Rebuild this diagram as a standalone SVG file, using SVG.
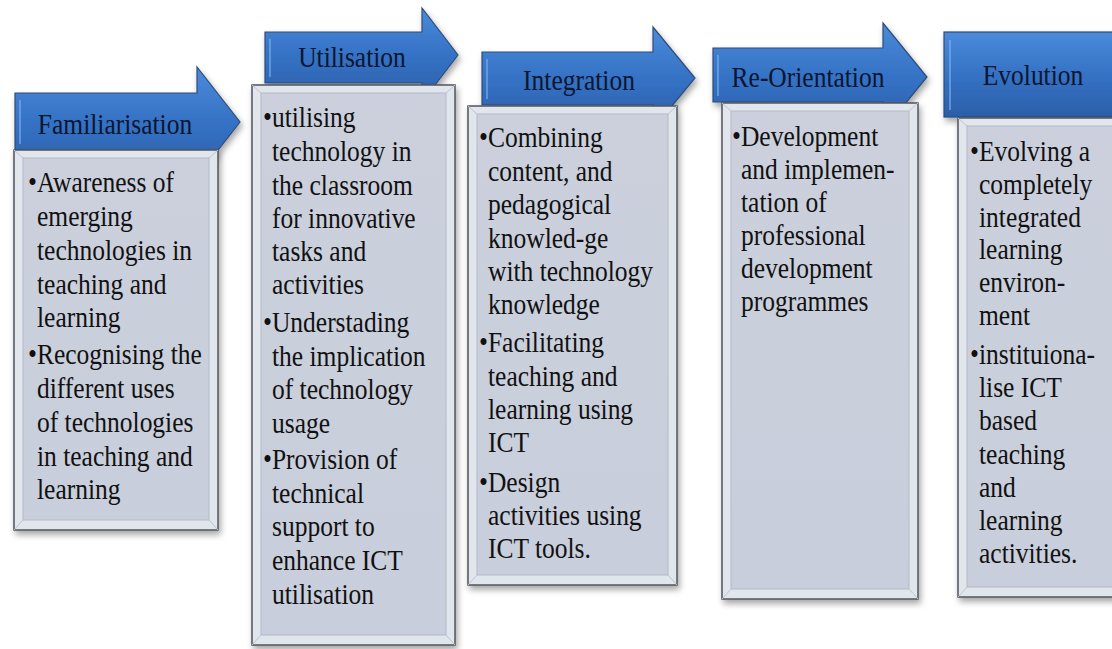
<svg xmlns="http://www.w3.org/2000/svg" width="1112" height="649" viewBox="0 0 1112 649">
<defs>
<linearGradient id="blue" x1="0" y1="0" x2="0" y2="1">
<stop offset="0" stop-color="#4B8BDA"/>
<stop offset="0.5" stop-color="#3572C5"/>
<stop offset="1" stop-color="#2B5FA9"/>
</linearGradient>
<linearGradient id="panel" x1="0" y1="0" x2="0" y2="1">
<stop offset="0" stop-color="#CBD0DC"/>
<stop offset="1" stop-color="#C8CEDB"/>
</linearGradient>
<filter id="sh" x="-10%" y="-10%" width="130%" height="130%">
<feDropShadow dx="2" dy="4" stdDeviation="3" flood-color="#000" flood-opacity="0.35"/>
</filter>
</defs>
<style>
.arrow{fill:url(#blue);stroke:#2E4C78;stroke-width:1.2;filter:url(#sh)}
.hl{fill:none;stroke:#7FB0EA;stroke-width:2;opacity:0.6}
.box{fill:#E1E5EC;stroke:#50545C;stroke-width:1.5;filter:url(#sh)}
.inner{fill:url(#panel);stroke:#B4BAC8;stroke-width:1}
.bev{stroke:#BEC4D0;stroke-width:1;fill:none}
.hd{font-family:"Liberation Serif","Times New Roman",serif;font-size:30px;fill:#0B1630;text-anchor:middle}
.tx{font-family:"Liberation Serif","Times New Roman",serif;font-size:30px;fill:#111}
</style>
<rect width="1112" height="649" fill="#FFFFFF"/>

<g id="familiarisation">
<path class="arrow" d="M15,93 H197 V67 L240,122 L197,177 V150 H15 Z"/>
<path class="hl" d="M20,100 V144"/>
<text class="hd" transform="translate(115,134) scale(0.85,1)">Familiarisation</text>
<rect class="box" x="14" y="150" width="204" height="380"/>
<rect class="inner" x="23" y="158" width="186" height="362"/>
<path class="bev" d="M14,150 L23,158 M218,150 L209,158 M14,530 L23,520 M218,530 L209,520"/>
<g transform="translate(28,0) scale(0.85,1)">
<text class="tx" x="0" y="192">•Awareness of</text>
<text class="tx" x="10.6" y="226">emerging</text>
<text class="tx" x="10.6" y="260">technologies in</text>
<text class="tx" x="10.6" y="294">teaching and</text>
<text class="tx" x="10.6" y="327">learning</text>
<text class="tx" x="0" y="364">•Recognising the</text>
<text class="tx" x="10.6" y="398">different uses</text>
<text class="tx" x="10.6" y="432">of technologies</text>
<text class="tx" x="10.6" y="466">in teaching and</text>
<text class="tx" x="10.6" y="499">learning</text>
</g>
</g>

<g id="utilisation">
<path class="arrow" d="M265,32 H422 V8 L458,55 L422,102 V83 H265 Z"/>
<path class="hl" d="M270,39 V77"/>
<text class="hd" transform="translate(352,67) scale(0.85,1)">Utilisation</text>
<rect class="box" x="252" y="85" width="203" height="560"/>
<rect class="inner" x="261" y="93" width="185" height="542"/>
<path class="bev" d="M252,85 L261,93 M455,85 L446,93 M252,645 L261,635 M455,645 L446,635"/>
<g transform="translate(263,0) scale(0.85,1)">
<text class="tx" x="0" y="127">•utilising</text>
<text class="tx" x="10.6" y="161">technology in</text>
<text class="tx" x="10.6" y="195">the classroom</text>
<text class="tx" x="10.6" y="228">for innovative</text>
<text class="tx" x="10.6" y="261">tasks and</text>
<text class="tx" x="10.6" y="294">activities</text>
<text class="tx" x="0" y="332">•Understading</text>
<text class="tx" x="10.6" y="366">the implication</text>
<text class="tx" x="10.6" y="399">of technology</text>
<text class="tx" x="10.6" y="433">usage</text>
<text class="tx" x="0" y="469">•Provision of</text>
<text class="tx" x="10.6" y="503">technical</text>
<text class="tx" x="10.6" y="536">support to</text>
<text class="tx" x="10.6" y="570">enhance ICT</text>
<text class="tx" x="10.6" y="604">utilisation</text>
</g>
</g>

<g id="integration">
<path class="arrow" d="M482,52 H653 V27 L695,78 L653,129 V105 H482 Z"/>
<path class="hl" d="M487,59 V99"/>
<text class="hd" transform="translate(579,90) scale(0.85,1)">Integration</text>
<rect class="box" x="468" y="106" width="209" height="479"/>
<rect class="inner" x="477" y="114" width="191" height="461"/>
<path class="bev" d="M468,106 L477,114 M677,106 L668,114 M468,585 L477,575 M677,585 L668,575"/>
<g transform="translate(479,0) scale(0.85,1)">
<text class="tx" x="0" y="147">•Combining</text>
<text class="tx" x="10.6" y="181">content, and</text>
<text class="tx" x="10.6" y="214">pedagogical</text>
<text class="tx" x="10.6" y="248">knowled-ge</text>
<text class="tx" x="10.6" y="281">with technology</text>
<text class="tx" x="10.6" y="314">knowledge</text>
<text class="tx" x="0" y="352">•Facilitating</text>
<text class="tx" x="10.6" y="386">teaching and</text>
<text class="tx" x="10.6" y="419">learning using</text>
<text class="tx" x="10.6" y="452">ICT</text>
<text class="tx" x="0" y="492">•Design</text>
<text class="tx" x="10.6" y="525">activities using</text>
<text class="tx" x="10.6" y="558">ICT tools.</text>
</g>
</g>

<g id="re-orientation">
<path class="arrow" d="M713,48 H883 V23 L927,77 L883,131 V102 H713 Z"/>
<path class="hl" d="M718,55 V96"/>
<text class="hd" transform="translate(808,87) scale(0.85,1)">Re-Orientation</text>
<rect class="box" x="722" y="103" width="196" height="496"/>
<rect class="inner" x="731" y="111" width="178" height="478"/>
<path class="bev" d="M722,103 L731,111 M918,103 L909,111 M722,599 L731,589 M918,599 L909,589"/>
<g transform="translate(732,0) scale(0.85,1)">
<text class="tx" x="0" y="146">•Development</text>
<text class="tx" x="10.6" y="179">and implemen-</text>
<text class="tx" x="10.6" y="212">tation of</text>
<text class="tx" x="10.6" y="245">professional</text>
<text class="tx" x="10.6" y="278">development</text>
<text class="tx" x="10.6" y="311">programmes</text>
</g>
</g>

<g id="evolution">
<rect class="arrow" x="944" y="32" width="180" height="85"/>
<path class="hl" d="M950,40 V110"/>
<text class="hd" transform="translate(1033,85) scale(0.85,1)">Evolution</text>
<rect class="box" x="958" y="118" width="170" height="479"/>
<rect class="inner" x="967" y="126" width="160" height="461"/>
<path class="bev" d="M958,118 L967,126 M958,597 L967,587"/>
<g transform="translate(970,0) scale(0.85,1)">
<text class="tx" x="0" y="161">•Evolving a</text>
<text class="tx" x="10.6" y="194">completely</text>
<text class="tx" x="10.6" y="227">integrated</text>
<text class="tx" x="10.6" y="259">learning</text>
<text class="tx" x="10.6" y="292">environ-</text>
<text class="tx" x="10.6" y="325">ment</text>
<text class="tx" x="0" y="364">•instituiona-</text>
<text class="tx" x="10.6" y="397">lise ICT</text>
<text class="tx" x="10.6" y="430">based</text>
<text class="tx" x="10.6" y="464">teaching</text>
<text class="tx" x="10.6" y="497">and</text>
<text class="tx" x="10.6" y="530">learning</text>
<text class="tx" x="10.6" y="563">activities.</text>
</g>
</g>

<g id="connectors"/>
</svg>
